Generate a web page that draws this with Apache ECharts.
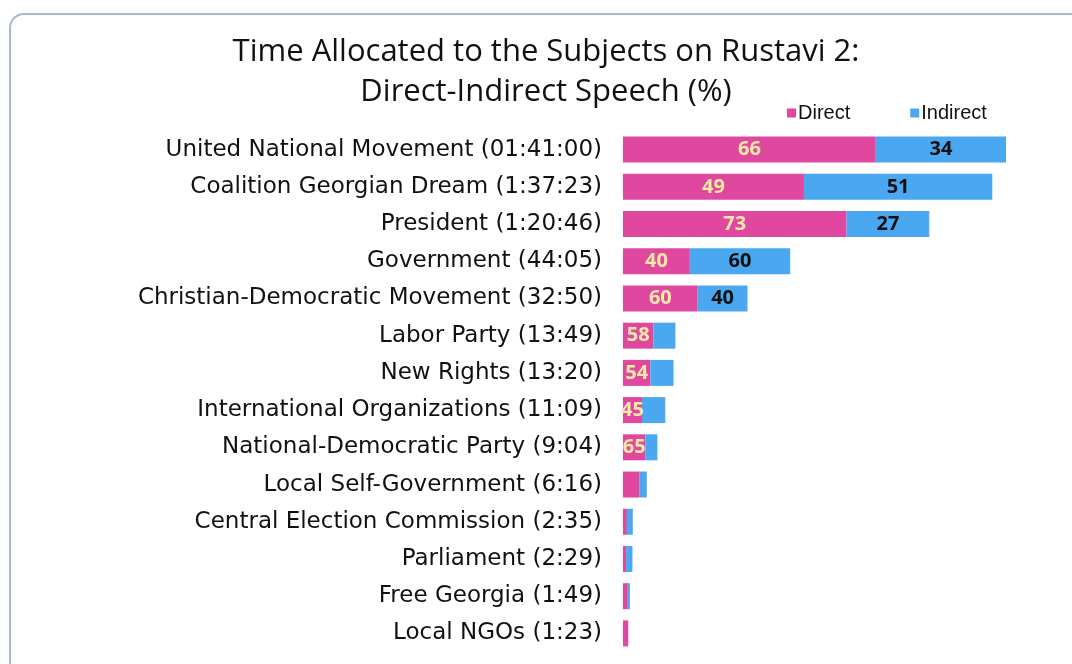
<!DOCTYPE html>
<html>
<head>
<meta charset="utf-8">
<script src="https://cdn.jsdelivr.net/npm/echarts@6/dist/echarts.min.js"></script>
<style>
  html, body { margin: 0; padding: 0; background: #fff; }
  #chart { width: 1072px; height: 664px; }
</style>
</head>
<body>
<div id="chart"></div>
<script>
// subjects, top to bottom
const subjects = [
    'United National Movement (01:41:00)',
    'Coalition Georgian Dream (1:37:23)',
    'President (1:20:46)',
    'Government (44:05)',
    'Christian-Democratic Movement (32:50)',
    'Labor Party (13:49)',
    'New Rights (13:20)',
    'International Organizations (11:09)',
    'National-Democratic Party (9:04)',
    'Local Self-Government (6:16)',
    'Central Election Commission (2:35)',
    'Parliament (2:29)',
    'Free Georgia (1:49)',
    'Local NGOs (1:23)'
];
// total airtime in seconds (from the labels)
const totalSeconds = [6060, 5843, 4846, 2645, 1970, 829, 800, 669, 544, 376, 155, 149, 109, 83];
// share of direct speech, %
const directPct = [66, 49, 73, 40, 60, 58, 54, 45, 65, 70, 40, 33, 70, 100];
// which labels are printed on the bars
const showDirectLabel = [true, true, true, true, true, true, true, true, true, false, false, false, false, false];
const showIndirectLabel = [true, true, true, true, true, false, false, false, false, false, false, false, false, false];

const directSec = totalSeconds.map((t, i) => t * directPct[i] / 100);
const indirectSec = totalSeconds.map((t, i) => t - directSec[i]);

const chart = echarts.init(document.getElementById('chart'));

chart.setOption({
    backgroundColor: '#fff',
    animation: false,
    graphic: [{
        type: 'rect',
        shape: { x: 10, y: 14, width: 1090, height: 680, r: 14 },
        style: { fill: '#fff', stroke: '#aab8cc', lineWidth: 2 },
        z: -10
    }],
    title: {
        text: 'Time Allocated to the Subjects on Rustavi 2:\nDirect-Indirect Speech (%)',
        left: 541,
        textAlign: 'center',
        top: 27,
        textStyle: {
            fontFamily: 'Open Sans',
            fontWeight: 'normal',
            fontSize: 31,
            lineHeight: 40,
            color: '#111'
        }
    },
    legend: {
        data: ['Direct', 'Indirect'],
        left: 782,
        top: 98,
        itemWidth: 9,
        itemHeight: 9,
        itemGap: 60,
        icon: 'rect',
        textStyle: { fontFamily: 'Liberation Sans', fontSize: 20, color: '#111', padding: [0, 0, 0, -3] }
    },
    grid: { left: 623, right: 66, top: 131, bottom: 12 },
    xAxis: {
        type: 'value',
        min: 0,
        max: 6060,
        show: false
    },
    yAxis: {
        type: 'category',
        data: subjects,
        inverse: true,
        axisLine: { show: false },
        axisTick: { show: false },
        axisLabel: {
            fontFamily: 'DejaVu Sans',
            fontSize: 23,
            color: '#111',
            margin: 21
        }
    },
    series: [
        {
            name: 'Direct',
            type: 'bar',
            stack: 'total',
            barWidth: 26,
            data: directSec,
            itemStyle: { color: '#e048a0' },
            label: {
                show: true,
                position: 'inside',
                fontFamily: 'Open Sans',
                fontWeight: 'bold',
                fontSize: 20,
                color: '#f8eaa6',
                formatter: p => showDirectLabel[p.dataIndex] ? String(directPct[p.dataIndex]) : ''
            }
        },
        {
            name: 'Indirect',
            type: 'bar',
            stack: 'total',
            barWidth: 26,
            data: indirectSec,
            itemStyle: { color: '#4aa8f0' },
            label: {
                show: true,
                position: 'inside',
                fontFamily: 'Open Sans',
                fontWeight: 'bold',
                fontSize: 20,
                color: '#111',
                formatter: p => showIndirectLabel[p.dataIndex] ? String(100 - directPct[p.dataIndex]) : ''
            }
        }
    ]
});
</script>
</body>
</html>
